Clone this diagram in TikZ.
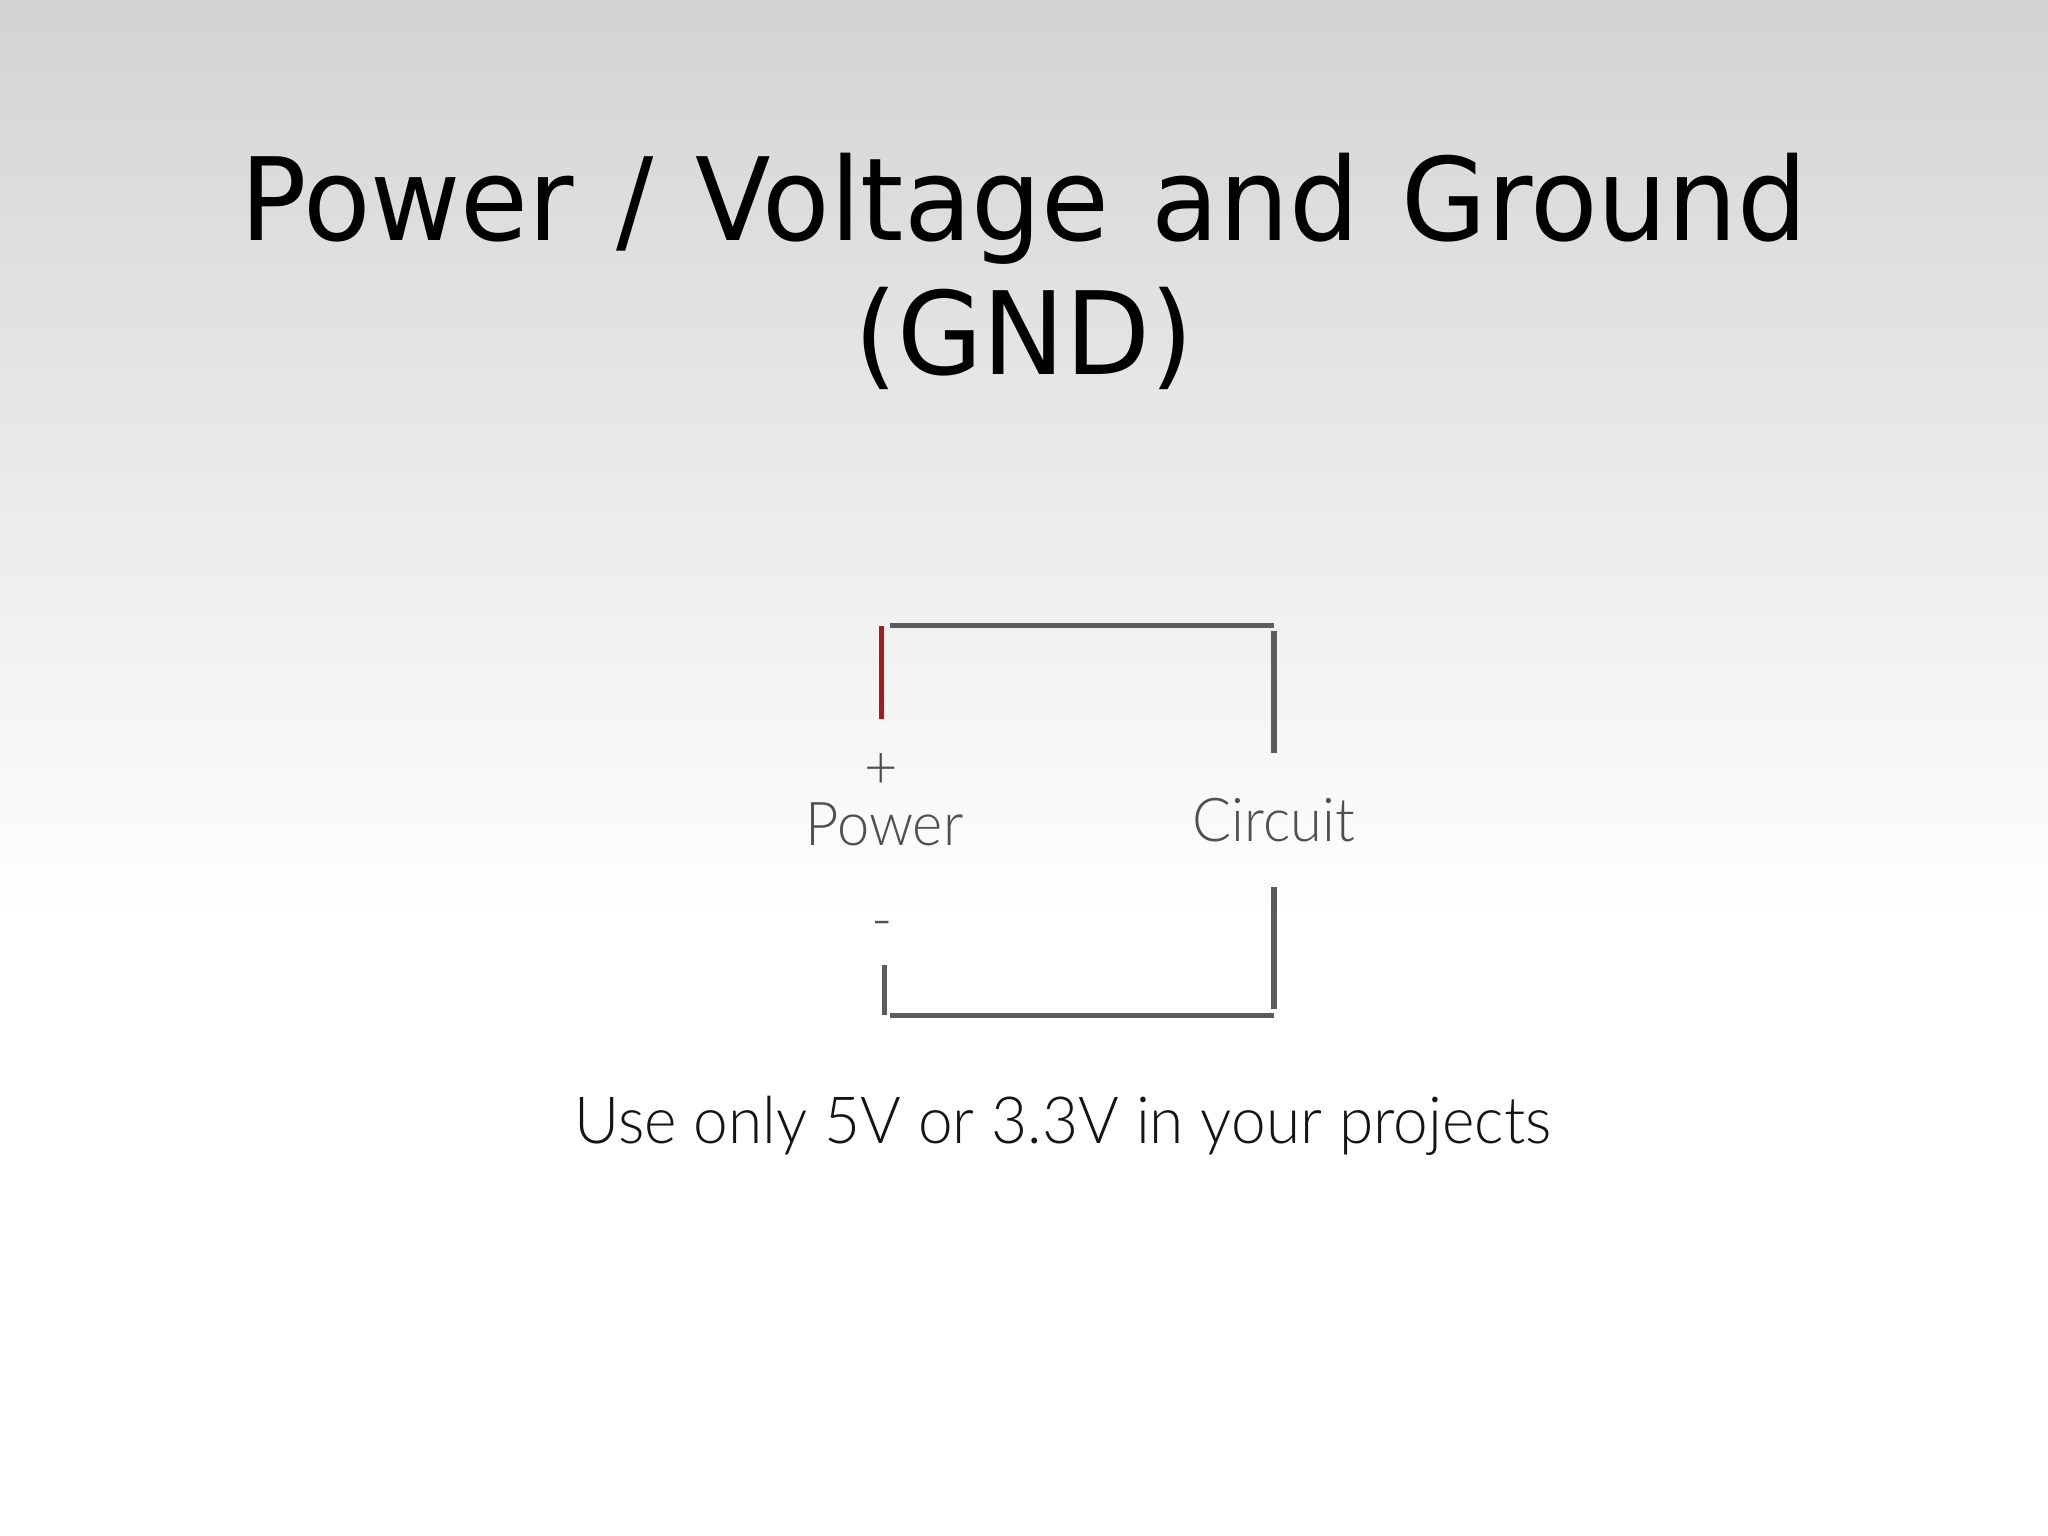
\documentclass[tikz,border=0pt]{standalone}
\usepackage{fontspec}
\newfontfamily\titlefont[FakeStretch=0.96,WordSpace=1.2]{DejaVu Sans}
\newfontfamily\slidefont[FakeStretch=0.955]{Lato Light}
\definecolor{wiregray}{HTML}{5C5C5C}
\definecolor{wirered}{HTML}{B01818}
\definecolor{labelgray}{HTML}{505050}
\definecolor{slidetop}{HTML}{D3D3D3}
\begin{document}
\begin{tikzpicture}[x=0.01cm,y=-0.01cm,
  wire/.style={line width=1.55pt,color=wiregray},
  title/.style={inner sep=0pt,anchor=base,font=\titlefont\fontsize{32.7}{38}\selectfont},
  label/.style={inner sep=0pt,anchor=base,text=labelgray,font=\slidefont\fontsize{17.2}{20}\selectfont}]
  \useasboundingbox (0,0) rectangle (2048,1536);
  \fill[white] (0,0) rectangle (2048,1536);
  \shade[top color=slidetop,bottom color=white] (0,0) rectangle (2048,920);
  % title
  \node[title] (title1) at (1024,240.7) {Power / Voltage and Ground};
  \node[title] (title2) at (1024,374) {(GND)};
  % power source and circuit
  \node[label] (power) at (884.5,845) {Power};
  \node[label] (circuit) at (1274,841.7) {Circuit};
  \node[label,anchor=center] (plus) at (881.7,770.5) {+};
  \node[label,anchor=center] (minus) at (881.7,931) {-};
  \coordinate (pplus) at (881.7,626);
  \coordinate (pplusend) at (881.7,719);
  \coordinate (topl) at (890,625.7);
  \coordinate (topr) at (1274,625.7);
  \coordinate (cin) at (1274,631);
  \coordinate (cinend) at (1274,753);
  \coordinate (cout) at (1274,887);
  \coordinate (coutend) at (1274,1009);
  \coordinate (botl) at (890,1015.3);
  \coordinate (botr) at (1274,1015.3);
  \coordinate (pminus) at (884.3,965);
  \coordinate (pminusend) at (884.3,1015);
  \draw[wire,color=wirered] (pplus) -- (pplusend);
  \draw[wire] (topl) -- (topr);
  \draw[wire] (cin) -- (cinend);
  \draw[wire] (cout) -- (coutend);
  \draw[wire] (botl) -- (botr);
  \draw[wire] (pminus) -- (pminusend);
  % note
  \node[inner sep=0pt,anchor=base,font=\slidefont\fontsize{18.5}{22}\selectfont,text=black!92] (note) at (1063,1143.3) {Use only 5V or 3.3V in your projects};
\end{tikzpicture}
\end{document}
